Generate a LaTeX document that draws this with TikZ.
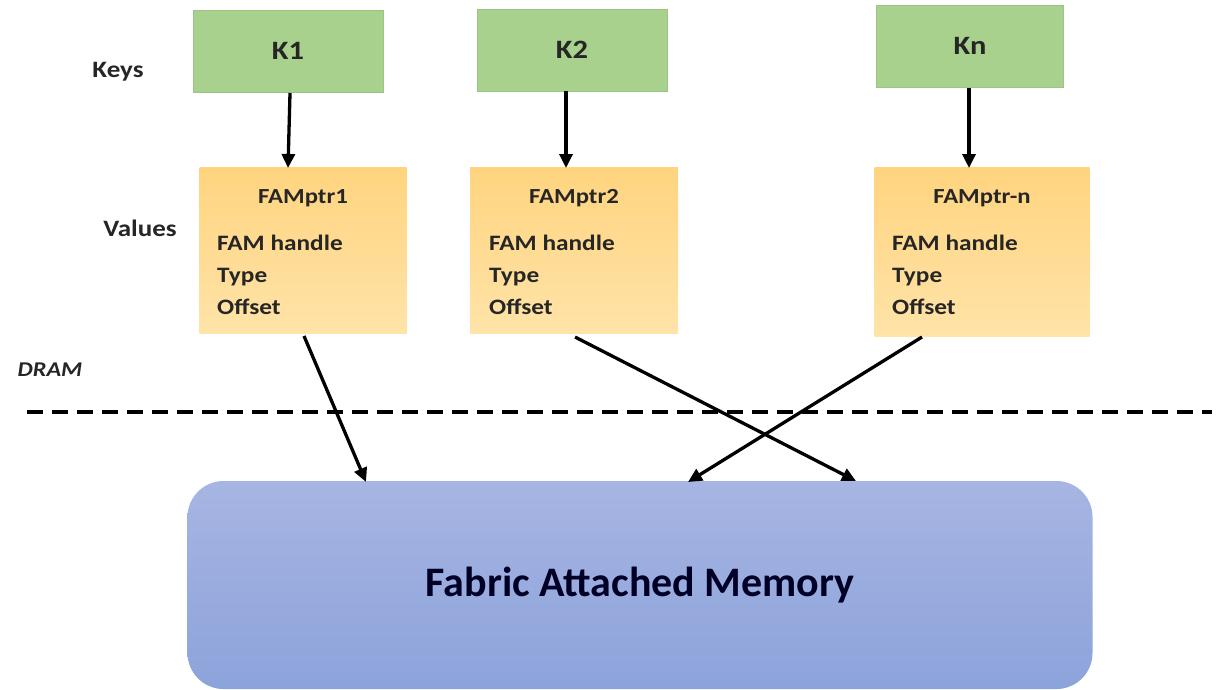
\documentclass[tikz,border=0pt]{standalone}
\usepackage{fontspec}
\setmainfont{Carlito}[FakeStretch=1.15]
\newfontfamily\famfont{Carlito}
\usetikzlibrary{arrows.meta}
\definecolor{keyfill}{HTML}{A9D18E}
\definecolor{keydraw}{HTML}{9CC584}
\definecolor{valtop}{HTML}{FFD47F}
\definecolor{valbot}{HTML}{FFE3A8}
\definecolor{famtop}{HTML}{A7B5E2}
\definecolor{fambot}{HTML}{8CA3DB}
\definecolor{txt}{HTML}{262626}
\tikzset{
  keybox/.style={draw=keydraw, fill=keyfill, line width=0.8pt, minimum width=190pt, minimum height=82pt, font=\bfseries\fontsize{26.5}{30}\selectfont, text=txt, inner sep=0pt},
  valbox/.style={top color=valtop, bottom color=valbot, draw=none, minimum width=207pt, minimum height=166pt, inner sep=0pt},
  valtitle/.style={font=\bfseries\fontsize{21.5}{24}\selectfont, text=txt, inner sep=0pt},
  valtext/.style={font=\bfseries\fontsize{22}{32}\selectfont, text=txt, align=left, inner sep=0pt, anchor=north west},
  lbl/.style={font=\bfseries\fontsize{23.5}{26}\selectfont, text=txt, inner sep=0pt},
  arr/.style={-{Triangle[length=14pt,width=13pt]}, line width=3.3pt, black},
}
\begin{document}
\begin{tikzpicture}[x=1pt,y=-1pt]
\useasboundingbox (0,0) rectangle (1222,689);
% keys
\node[keybox] (k1) at (288,51) {K1};
\node[keybox] (k2) at (572,50) {K2};
\node[keybox, minimum width=187pt] (kn) at (970,46) {Kn};
% values
\node[valbox] (v1) at (303,250) {};
\node[valbox, minimum width=208pt] (v2) at (574,250) {};
\node[valbox, minimum width=215pt, minimum height=169pt] (vn) at (982,252) {};
\node[valtitle] (t1) at (303,198) {FAMptr1};
\node[valtitle] (t2) at (574,198) {FAMptr2};
\node[valtitle] (tn) at (982,198) {FAMptr-n};
\node[valtext] (f1) at (217,235) {FAM handle\\Type\\Offset};
\node[valtext] (f2) at (489,235) {FAM handle\\Type\\Offset};
\node[valtext] (fn) at (892,235) {FAM handle\\Type\\Offset};
% labels
\node[lbl] (keys) at (118,72) {Keys};
\node[lbl] (vals) at (140,228) {Values};
\node[font=\bfseries\itshape\fontsize{21}{24}\selectfont, text=txt, inner sep=0pt] (dram) at (50,370) {DRAM};
% dashed separator
\coordinate (dl) at (27,412);
\coordinate (dr) at (1212,412);
\draw[line width=3.3pt, dash pattern=on 16pt off 9pt] (dl) -- (dr);
% FAM box
\node[top color=famtop, bottom color=fambot, draw=none, rounded corners=36pt, minimum width=905pt, minimum height=208pt, inner sep=0pt, font=\famfont\bfseries\fontsize{42}{48}\selectfont, text=black!85!blue] (fam) at (640,585) {Fabric Attached Memory};
% arrows key -> value
\coordinate (a1s) at (290,93);
\coordinate (a1e) at (288,168);
\coordinate (a2s) at (566,91);
\coordinate (a2e) at (566,168);
\coordinate (ans) at (969,88);
\coordinate (ane) at (969,168);
\draw[arr] (a1s) -- (a1e);
\draw[arr] (a2s) -- (a2e);
\draw[arr] (ans) -- (ane);
% arrows value -> FAM
\coordinate (b1s) at (304,336);
\coordinate (b1e) at (366,482);
\coordinate (b2s) at (575,337);
\coordinate (b2e) at (856,481);
\coordinate (bns) at (922,337);
\coordinate (bne) at (688,482);
\draw[arr] (b1s) -- (b1e);
\draw[arr] (b2s) -- (b2e);
\draw[arr] (bns) -- (bne);
\end{tikzpicture}
\end{document}
